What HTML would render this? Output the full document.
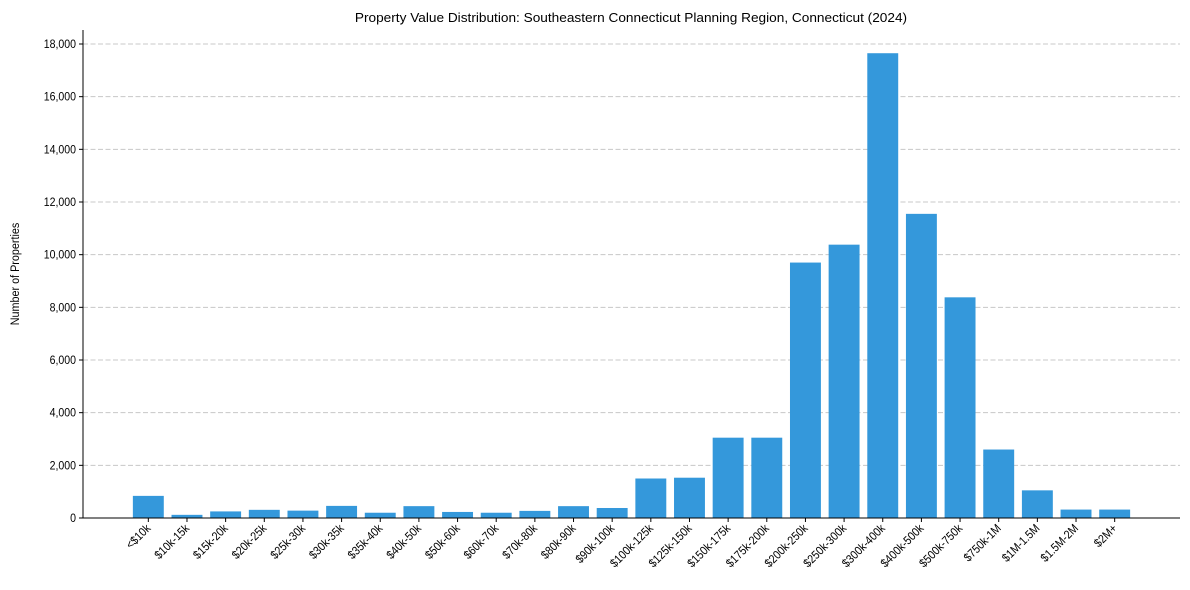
<!DOCTYPE html>
<html><head><meta charset="utf-8"><style>
body{margin:0;background:#fff;}
svg{display:block;font-family:"Liberation Sans",Arial,sans-serif;}
</style></head><body>
<svg id="chart" width="1190" height="590">
<text x="631" y="22" text-anchor="middle" font-size="13" transform="translate(631,0) scale(1.05,1) translate(-631,0)">Property Value Distribution: Southeastern Connecticut Planning Region, Connecticut (2024)</text>
<text transform="translate(19,274) rotate(-90) scale(0.9,1)" text-anchor="middle" font-size="12">Number of Properties</text>
<g id="grid"></g><g id="bars"></g><g id="axes"></g>
</svg>
<script>
const categories=["<$10k","$10k-15k","$15k-20k","$20k-25k","$25k-30k","$30k-35k","$35k-40k","$40k-50k","$50k-60k","$60k-70k","$70k-80k","$80k-90k","$90k-100k","$100k-125k","$125k-150k","$150k-175k","$175k-200k","$200k-250k","$250k-300k","$300k-400k","$400k-500k","$500k-750k","$750k-1M","$1M-1.5M","$1.5M-2M","$2M+"];
const counts=[840,120,250,310,280,460,200,450,230,200,270,450,380,1500,1530,3050,3050,9700,10380,17650,11550,8380,2600,1050,320,320];
const yTicks=[0,2000,4000,6000,8000,10000,12000,14000,16000,18000];
const yTickLabels=["0","2,000","4,000","6,000","8,000","10,000","12,000","14,000","16,000","18,000"];
const NS="http://www.w3.org/2000/svg";
const L=83,R=1180,T=30,B=518;
const n=categories.length;
const xmin=-1.69,xmax=n-1+1.69;
const x=i=>L+(i-xmin)/(xmax-xmin)*(R-L);
const y=v=>B-v/18000*(B-44);
const bw=0.8*(R-L)/(xmax-xmin);
function mk(tag,attrs,parent){const e=document.createElementNS(NS,tag);for(const k in attrs)e.setAttribute(k,attrs[k]);parent.appendChild(e);return e;}
const grid=document.getElementById('grid'),bars=document.getElementById('bars'),axes=document.getElementById('axes');
yTicks.forEach((t,i)=>{
  if(t>0){const g=mk('line',{x1:L,x2:R,y1:y(t),y2:y(t),stroke:'#c8c8c8','stroke-dasharray':'5,2.5','stroke-width':1},grid);
  
  }
  const tk=mk('line',{x1:L-4,x2:L,y1:y(t),y2:y(t),stroke:'#000'},axes);
  
  
  const tx=mk('text',{transform:`translate(${L-7},${y(t)+4}) scale(0.88,1)`,'text-anchor':'end','font-size':'12'},axes);
  tx.textContent=yTickLabels[i];
  
  
});
counts.forEach((v,i)=>{
  const r=mk('rect',{x:x(i)-bw/2,y:y(v),width:bw,height:B-y(v),fill:'#3498db'},bars);
  
  
  const tk=mk('line',{x1:x(i),x2:x(i),y1:B,y2:B+4,stroke:'#000'},axes);
  
  
  const tx=mk('text',{transform:`translate(${x(i)+3},${B+11}) rotate(-45) scale(0.88,1)`,'text-anchor':'end','font-size':'12'},axes);
  tx.textContent=categories[i];
  
  
});
const ax=mk('path',{d:`M${L},${T} V${B} H${R}`,fill:'none',stroke:'#000','stroke-width':1},axes);


</script>
</body></html>
